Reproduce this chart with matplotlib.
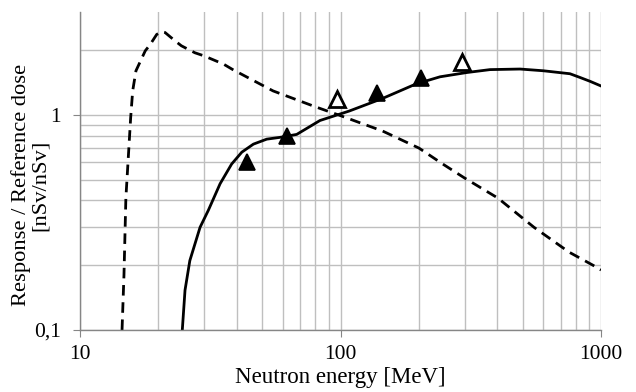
import matplotlib
matplotlib.use("Agg")
import matplotlib.pyplot as plt
from matplotlib.ticker import FixedLocator, NullFormatter, FixedFormatter

plt.rcParams['font.family'] = ['Liberation Serif', 'DejaVu Serif']

# Dashed curve
dash_E = [14.5, 14.75, 15.0, 15.65, 15.93, 16.4, 17.8, 18.6, 19.7, 20.6, 21.2, 23.2,
          24.5, 27.6, 29.8, 35.5, 38.6, 55.1, 79.8, 100, 145, 200, 247, 298, 402,
          553, 754, 931, 1000]
dash_y = [0.1, 0.18, 0.41, 0.97, 1.29, 1.6, 1.98, 2.12, 2.36, 2.43, 2.41, 2.2,
          2.09, 1.94, 1.88, 1.72, 1.62, 1.29, 1.09, 0.99, 0.84, 0.70, 0.59, 0.51, 0.41,
          0.30, 0.23, 0.20, 0.19]

# Solid curve
solid_E = [24.7, 25.3, 26.4, 28.9, 31.1, 34.5, 38.2, 41.8, 46.3, 52.1, 58.6, 67.9,
           83.4, 108, 145, 195, 241, 305, 375, 489, 601, 760, 830, 907, 1000]
solid_y = [0.1, 0.153, 0.21, 0.3, 0.36, 0.478, 0.59, 0.67, 0.73, 0.77, 0.785, 0.81,
           0.94, 1.04, 1.19, 1.39, 1.50, 1.57, 1.62, 1.63, 1.6, 1.55, 1.49, 1.43, 1.36]

# Measured points
filled_E = [43.6, 62.1, 138, 204]
filled_y = [0.60, 0.80, 1.26, 1.48]
open_E = [97, 292]
open_y = [1.18, 1.75]

x_major = [10, 100, 1000]
x_labels = ['10', '100', '1000']
y_major = [0.1, 1]
y_labels = ['0,1', '1']

fig = plt.figure(figsize=(6.36, 3.92), dpi=100)
ax = fig.add_axes([80/636, 62/392, 521/636, 318/392])

ax.set_xscale('log')
ax.set_yscale('log')
ax.set_xlim(10, 1000)
ax.set_ylim(0.1, 3)

xminor = [v * d for d in (10, 100) for v in range(2, 10)]
yminor = [v * 0.1 for v in range(2, 10)] + [2]
ax.xaxis.set_major_locator(FixedLocator(x_major))
ax.xaxis.set_major_formatter(FixedFormatter(x_labels))
ax.xaxis.set_minor_locator(FixedLocator(xminor))
ax.xaxis.set_minor_formatter(NullFormatter())
ax.yaxis.set_major_locator(FixedLocator(y_major))
ax.yaxis.set_major_formatter(FixedFormatter(y_labels))
ax.yaxis.set_minor_locator(FixedLocator(yminor))
ax.yaxis.set_minor_formatter(NullFormatter())

ax.grid(True, which='both', color='#BFBFBF', linewidth=1.0)
ax.set_axisbelow(True)
for s in ('top', 'right'):
    ax.spines[s].set_visible(False)
for s in ('left', 'bottom'):
    ax.spines[s].set_color('#868686')
    ax.spines[s].set_linewidth(1.0)
ax.tick_params(which='major', length=5, color='#868686', labelsize=15.5)
ax.tick_params(axis='y', which='major', pad=9)
ax.tick_params(axis='x', which='major', pad=6)
ax.tick_params(which='minor', length=0)

ax.plot(dash_E, dash_y, color='black', linewidth=2.0, dashes=(3.8, 2.4),
        solid_capstyle='butt', dash_capstyle='butt', solid_joinstyle='round')
ax.plot(solid_E, solid_y, color='black', linewidth=2.0, solid_joinstyle='round')
ax.plot(filled_E, filled_y, linestyle='none', marker='^', markersize=11.5,
        markerfacecolor='black', markeredgecolor='black', markeredgewidth=1.2)
ax.plot(open_E, open_y, linestyle='none', marker='^', markersize=11.5,
        markerfacecolor='white', markeredgecolor='black', markeredgewidth=2.0)

ax.set_xlabel('Neutron energy [MeV]', fontsize=16.5, labelpad=2)
ax.set_ylabel('Response / Reference dose\n[nSv/nSv]', fontsize=16.2,
              linespacing=0.95)
ax.yaxis.set_label_coords(-0.058, 0.455)

fig.savefig('out.png', dpi=100)
